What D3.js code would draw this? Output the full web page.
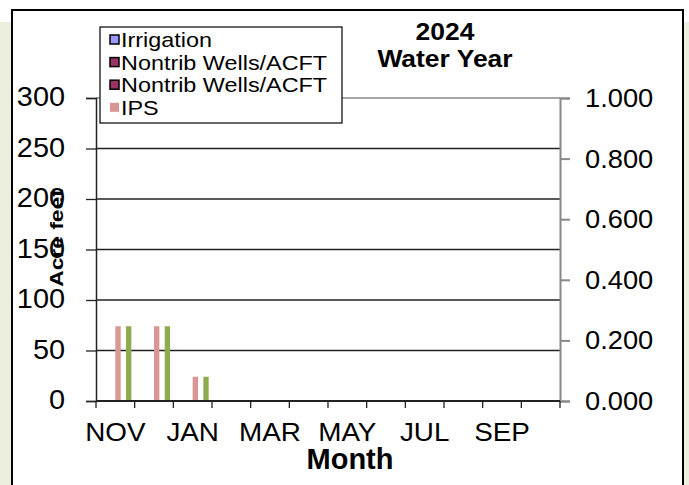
<!DOCTYPE html>
<html>
<head>
<meta charset="utf-8">
<script src="https://cdn.jsdelivr.net/npm/d3@7"></script>
<style>
  body { margin: 0; background: #fff; }
  text { font-family: "Liberation Sans", Arial, sans-serif; fill: #000; }
</style>
</head>
<body>
<svg width="689" height="485"></svg>
<script>
//Chart data
var months = ["NOV", "DEC", "JAN", "FEB", "MAR", "APR", "MAY", "JUN", "JUL", "AUG", "SEP", "OCT"];
var seriesNames = ["Irrigation", "Nontrib Wells/ACFT", "Nontrib Wells/ACFT 2", "IPS", "Series5", "Series6"];
var legendNames = ["Irrigation", "Nontrib Wells/ACFT", "Nontrib Wells/ACFT", "IPS"];
var irrigation = [0, 0, 0, null, null, null, null, null, null, null, null, null];
var nontrib1 = [0, 0, 0, null, null, null, null, null, null, null, null, null];
var nontrib2 = [0, 0, 0, null, null, null, null, null, null, null, null, null];
var ips = [74, 74, 24, null, null, null, null, null, null, null, null, null];
var series5 = [0, 0, 0, null, null, null, null, null, null, null, null, null];
var series6 = [74, 74, 24, null, null, null, null, null, null, null, null, null];
var leftTicks = [0, 50, 100, 150, 200, 250, 300];
var rightTicks = [0, 0.2, 0.4, 0.6, 0.8, 1.0];
var titleLines = ["2024", "Water Year"];

var colors = ["#9999ff", "#993366", "#993366", "#d99694", "#ffffcc", "#8fab4f"];

var svg = d3.select("svg");

//page background and frame
svg.append("rect").attr("x", 0).attr("y", 22).attr("width", 689).attr("height", 463)
	.attr("fill", "#ebeedd");
svg.append("rect").attr("x", 12).attr("y", 10).attr("width", 671).attr("height", 480)
	.attr("fill", "#fff").attr("stroke", "#000").attr("stroke-width", 2);

//scales
var x = d3.scaleBand().domain(months).range([96, 560]).padding(0);
var xs = d3.scaleBand().domain(seriesNames).range([0, x.bandwidth()]).paddingInner(0).paddingOuter(0.62);
var y = d3.scaleLinear().domain([0, 300]).range([401, 98]);
var y2 = d3.scaleLinear().domain([0, 1]).range([401, 98]);

//stretch text horizontally (the source picture is a bit wider than tall)
function stretch(sel, sx) {
	sel.each(function() {
		var t = d3.select(this);
		var tx = +t.attr("x") || 0;
		t.attr("x", tx / sx).attr("transform", "scale(" + sx + ",1)");
	});
}

//gridlines
svg.append("g").selectAll("line").data(leftTicks.slice(0, -1)).join("line")
	.attr("x1", 96).attr("x2", 560)
	.attr("y1", function(d) { return y(d); }).attr("y2", function(d) { return y(d); })
	.attr("stroke", "#222").attr("stroke-width", 1.3);
svg.append("line").attr("x1", 96).attr("x2", 560).attr("y1", y(300)).attr("y2", y(300))
	.attr("stroke", "#888").attr("stroke-width", 1.5);

//bars
var seriesData = [irrigation, nontrib1, nontrib2, ips, series5, series6];
var bars = [];
seriesData.forEach(function(vals, si) {
	vals.forEach(function(v, mi) {
		if (v) bars.push({ s: seriesNames[si], m: months[mi], v: v, c: colors[si] });
	});
});
svg.append("g").selectAll("rect").data(bars).join("rect")
	.attr("x", function(d) { return x(d.m) + xs(d.s); })
	.attr("width", xs.bandwidth())
	.attr("y", function(d) { return y(d.v); })
	.attr("height", function(d) { return y(0) - y(d.v); })
	.attr("fill", function(d) { return d.c; });

//left axis
var gl = svg.append("g").attr("transform", "translate(96,0)")
	.call(d3.axisLeft(y).tickValues(leftTicks).tickSize(10).tickPadding(21));
gl.select(".domain").attr("stroke", "#222").attr("stroke-width", 1.5);
gl.selectAll(".tick line").attr("stroke", "#222").attr("stroke-width", 1.3);
gl.selectAll("text").attr("font-size", 27).attr("dy", "0.28em")
	.style("font-family", "Liberation Sans, Arial, sans-serif").attr("fill", "#000");
stretch(gl.selectAll("text"), 1.07);

//right axis
var gr = svg.append("g").attr("transform", "translate(560,0)")
	.call(d3.axisRight(y2).tickValues(rightTicks).tickSize(10).tickPadding(15).tickFormat(d3.format(".3f")));
gr.select(".domain").attr("stroke", "#888").attr("stroke-width", 2);
gr.selectAll(".tick line").attr("stroke", "#888").attr("stroke-width", 2);
gr.selectAll("text").attr("font-size", 26).attr("dy", "0.33em")
	.style("font-family", "Liberation Sans, Arial, sans-serif").attr("fill", "#000");
stretch(gr.selectAll("text"), 1.05);

//bottom axis: ticks at month boundaries, labels every other month
var bounds = months.map(function(m) { return x(m); }).concat([x.range()[1]]);
var gb = svg.append("g");
gb.append("line").attr("x1", 96).attr("x2", 560).attr("y1", 401).attr("y2", 401)
	.attr("stroke", "#222").attr("stroke-width", 1.8);
gb.selectAll(".mt").data(bounds).join("line").attr("class", "mt")
	.attr("x1", function(d) { return d; }).attr("x2", function(d) { return d; })
	.attr("y1", 401).attr("y2", 408)
	.attr("stroke", "#222").attr("stroke-width", 1.3);
gb.selectAll("text").data(months.filter(function(m, i) { return i % 2 == 0; })).join("text")
	.attr("text-anchor", "middle")
	.attr("x", function(d) { return x(d) + x.bandwidth() / 2; })
	.attr("y", 441)
	.attr("font-size", 26.5)
	.text(function(d) { return d; });
stretch(gb.selectAll("text"), 1.05);

//axis titles
svg.append("text").attr("text-anchor", "middle").attr("font-weight", "bold").attr("font-size", 29)
	.attr("x", 350).attr("y", 469).text("Month");
svg.append("text").attr("text-anchor", "middle").attr("font-weight", "bold").attr("font-size", 19)
	.attr("transform", "translate(63,238) rotate(-90) scale(1.2,1)")
	.text("Acre feet");

//title
var tt = svg.append("g");
tt.selectAll("text").data(titleLines).join("text")
	.attr("text-anchor", "middle").attr("font-weight", "bold").attr("font-size", 23)
	.attr("x", 445).attr("y", function(d, i) { return 40 + i * 27; })
	.text(function(d) { return d; });
stretch(tt.selectAll("text"), 1.15);

//legend
var lg = svg.append("g");
lg.append("rect").attr("x", 100).attr("y", 27).attr("width", 242).attr("height", 96)
	.attr("fill", "#fff").attr("stroke", "#000").attr("stroke-width", 1.2);
var items = lg.selectAll(".item").data(legendNames).join("g").attr("class", "item")
	.attr("transform", function(d, i) { return "translate(0," + (47 + i * 22.6) + ")"; });
items.append("rect").attr("x", 110).attr("y", -12).attr("width", 9).attr("height", 9)
	.attr("fill", function(d, i) { return colors[i]; })
	.attr("stroke", function(d, i) { return i < 3 ? "#000" : "none"; })
	.attr("stroke-width", 1.5);
items.append("text").attr("x", 121).attr("y", 0).attr("font-size", 20)
	.text(function(d) { return d; });
stretch(items.selectAll("text"), 1.17);
</script>
</body>
</html>
